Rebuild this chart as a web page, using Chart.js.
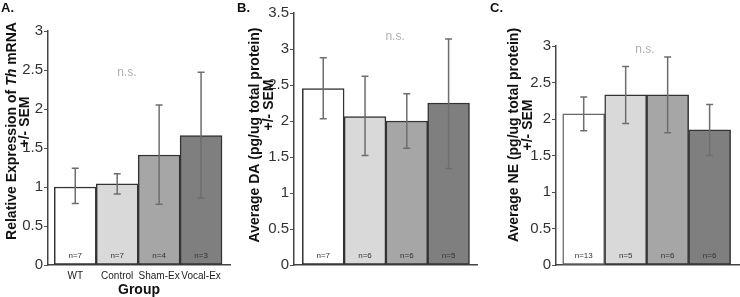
<!DOCTYPE html>
<html>
<head>
<meta charset="utf-8">
<script src="https://cdn.jsdelivr.net/npm/chart.js@4.4.1/dist/chart.umd.min.js"></script>
<style>
  html, body { margin: 0; padding: 0; background: #fff; }
  #wrap { position: relative; width: 740px; height: 297px; overflow: hidden; }
  canvas { position: absolute; top: 0; }
</style>
</head>
<body>
<div id="wrap">
  <canvas id="chartA" width="236" height="297" style="left:0px"></canvas>
  <canvas id="chartB" width="254" height="297" style="left:236px"></canvas>
  <canvas id="chartC" width="250" height="297" style="left:490px"></canvas>
</div>
<script>
// groups shared by all three panels
const groups = ["WT", "Control", "Sham-Ex", "Vocal-Ex"];
const barColors = ["#ffffff", "#d9d9d9", "#a6a6a6", "#7f7f7f"];

// A. Th mRNA
const thMean = [1.0, 1.04, 1.41, 1.66];
const thLow = [0.79, 0.91, 0.78, 0.86];
const thHigh = [1.24, 1.17, 2.05, 2.47];
const thN = [7, 7, 4, 3];

// B. DA
const daMean = [2.45, 2.06, 2.0, 2.25];
const daLow = [2.03, 1.52, 1.62, 1.34];
const daHigh = [2.88, 2.62, 2.38, 3.14];
const daN = [7, 6, 6, 5];

// C. NE
const neMean = [2.07, 2.33, 2.33, 1.85];
const neLow = [1.84, 1.94, 1.81, 1.5];
const neHigh = [2.3, 2.72, 2.85, 2.2];
const neN = [13, 5, 6, 6];

const FONT = '"Liberation Sans", Arial, sans-serif';
Chart.defaults.font.family = FONT;

// error bars, n= labels, n.s., rotated axis title, panel letter
const extras = {
  id: "extras",
  afterDatasetsDraw(chart, args, opts) {
    const ctx = chart.ctx;
    const x = chart.scales.x;
    const y = chart.scales.y;
    ctx.save();
    ctx.strokeStyle = "#6e6e6e";
    ctx.lineWidth = 1.5;
    opts.low.forEach((lo, i) => {
      const px = x.getPixelForValue(i);
      const y1 = y.getPixelForValue(lo);
      const y2 = y.getPixelForValue(opts.high[i]);
      ctx.beginPath();
      ctx.moveTo(px, y1);
      ctx.lineTo(px, y2);
      ctx.moveTo(px - 3.5, y1);
      ctx.lineTo(px + 3.5, y1);
      ctx.moveTo(px - 3.5, y2);
      ctx.lineTo(px + 3.5, y2);
      ctx.stroke();
    });

    ctx.fillStyle = "#333";
    ctx.font = "8px " + FONT;
    ctx.textAlign = "center";
    ctx.textBaseline = "middle";
    opts.n.forEach((n, i) => {
      ctx.fillText("n=" + n, x.getPixelForValue(i), y.bottom - 9);
    });

    ctx.fillStyle = "#b0b0b0";
    ctx.font = "12px " + FONT;
    ctx.fillText("n.s.", x.getPixelForValue(opts.ns[0]), y.getPixelForValue(opts.ns[1]));
    ctx.restore();
  },
  afterDraw(chart, args, opts) {
    const ctx = chart.ctx;
    ctx.save();
    ctx.fillStyle = "#111";
    ctx.textBaseline = "middle";
    ctx.textAlign = "left";
    opts.title.forEach((line, k) => {
      ctx.save();
      ctx.translate(opts.titleX[k], opts.titleY[k]);
      ctx.rotate(-Math.PI / 2);
      let w = 0;
      line.forEach(s => {
        ctx.font = (s.italic ? "italic " : "") + "bold 14px " + FONT;
        w += ctx.measureText(s.text).width;
      });
      let cx = -w / 2;
      line.forEach(s => {
        ctx.font = (s.italic ? "italic " : "") + "bold 14px " + FONT;
        ctx.fillText(s.text, cx, 0);
        cx += ctx.measureText(s.text).width;
      });
      ctx.restore();
    });

    ctx.font = "bold 13px " + FONT;
    ctx.textBaseline = "top";
    ctx.fillText(opts.letter, opts.letterX, 2);
    ctx.restore();
  }
};

function panel(id, o) {
  return new Chart(document.getElementById(id), {
    type: "bar",
    data: {
      datasets: [
        {
          data: o.mean.map((v, i) => ({ x: i, y: v })),
          backgroundColor: barColors,
          borderColor: o.edge,
          borderWidth: 1.5,
          borderSkipped: false,
          categoryPercentage: 1,
          barPercentage: 1,
        },
      ],
    },
    options: {
      responsive: false,
      animation: false,
      layout: {
        padding: { top: o.top, right: o.right, left: 0, bottom: 0 },
      },
      plugins: {
        legend: { display: false },
        tooltip: { enabled: false },
        extras: {
          low: o.low,
          high: o.high,
          n: o.n,
          ns: o.ns,
          title: o.title,
          titleX: o.titleX,
          titleY: o.titleY,
          letter: o.letter,
          letterX: o.letterX,
        },
      },
      scales: {
        x: {
          type: "linear",
          offset: false,
          min: o.xmin,
          max: o.xmax,
          afterBuildTicks: s => {
            s.ticks = s.ticks.filter(t => Number.isInteger(t.value));
          },
          afterFit: s => {
            s.height = 32;
          },
          ticks: {
            display: o.showCats,
            includeBounds: false,
            autoSkip: false,
            stepSize: 1,
            callback: v => groups[v],
            font: { size: 10 },
            color: "#222",
            padding: 5,
            maxRotation: 0,
          },
          grid: { display: false, drawTicks: false, offset: false },
          border: { color: "#444", width: 1.5 },
          title: {
            display: o.showCats,
            text: "Group",
            font: { size: 14, weight: "bold", lineHeight: 1 },
            color: "#111",
            padding: 0,
          },
        },
        y: {
          min: 0,
          max: o.ymax,
          afterFit: s => {
            s.width = o.left;
          },
          ticks: {
            stepSize: 0.5,
            callback: v => String(v),
            font: { size: 15 },
            color: "#333",
            padding: 1,
          },
          grid: { drawOnChartArea: false, tickLength: 4, color: "#555" },
          border: { color: "#444", width: 1.5 },
        },
      },
    },
    plugins: [extras],
  });
}

panel("chartA", {
  mean: thMean, low: thLow, high: thHigh, n: thN,
  edge: "#333", ymax: 3, top: 31, right: 6, left: 48,
  xmin: -0.65, xmax: 3.69, showCats: true, ns: [1.23, 2.46],
  title: [
    [{ text: "Relative Expression of " }, { text: "Th", italic: true }, { text: " mRNA" }],
    [{ text: "+/- SEM" }],
  ],
  titleX: [12, 25], titleY: [131, 122],
  letter: "A.", letterX: 1,
});

panel("chartB", {
  mean: daMean, low: daLow, high: daHigh, n: daN,
  edge: "#333", ymax: 3.5, top: 13, right: 13, left: 58,
  xmin: -0.7, xmax: 3.68, showCats: false, ns: [1.72, 3.17],
  title: [[{ text: "Average DA (pg/ug total protein)" }], [{ text: "+/- SEM" }]],
  titleX: [19, 33], titleY: [135, 105],
  letter: "B.", letterX: 1,
});

panel("chartC", {
  mean: neMean, low: neLow, high: neHigh, n: neN,
  edge: ["#666", "#333", "#333", "#333"], ymax: 3, top: 46, right: 1, left: 66,
  xmin: -0.66, xmax: 3.7, showCats: false, ns: [1.46, 2.95],
  title: [[{ text: "Average NE (pg/ug total protein)" }], [{ text: "+/- SEM" }]],
  titleX: [24.5, 38], titleY: [135, 125],
  letter: "C.", letterX: 0,
});
</script>
</body>
</html>
